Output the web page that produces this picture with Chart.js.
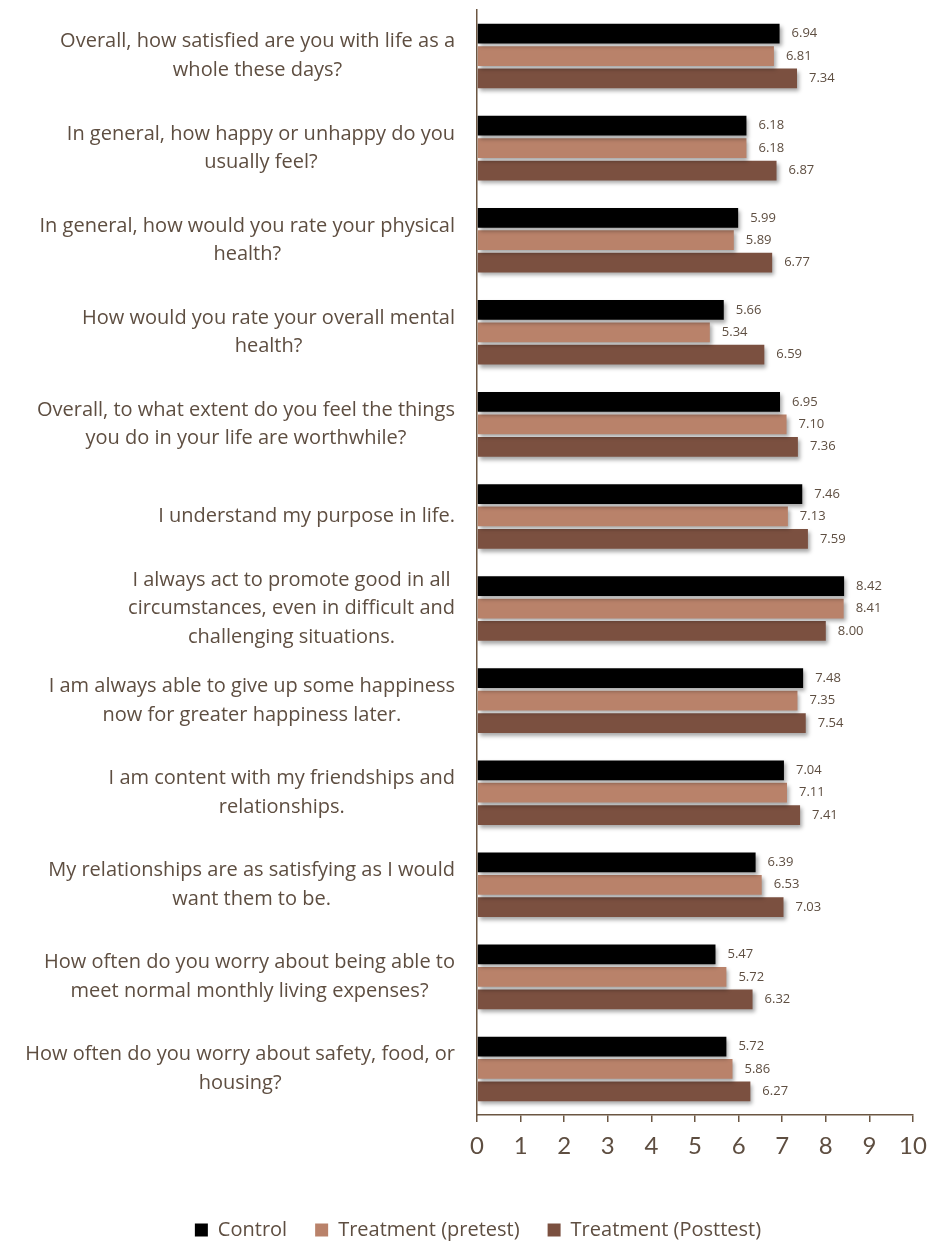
<!DOCTYPE html>
<html>
<head>
<meta charset="utf-8">
<script src="https://cdn.jsdelivr.net/npm/chart.js@4/dist/chart.umd.min.js"></script>
<style>
  html, body { margin: 0; padding: 0; background: #fff; }
  #wrap { width: 927px; height: 1243px; }
</style>
</head>
<body>
<div id="wrap"><canvas id="wellbeingChart" width="927" height="1243"></canvas></div>
<script>
const questions = [
    ["Overall, how satisfied are you with life as a", "whole these days?"],
    ["In general, how happy or unhappy do you", "usually feel?"],
    ["In general, how would you rate your physical", "health?"],
    ["How would you rate your overall mental", "health?"],
    ["Overall, to what extent do you feel the things", "you do in your life are worthwhile?"],
    ["I understand my purpose in life."],
    ["I always act to promote good in all", "circumstances, even in difficult and", "challenging situations."],
    ["I am always able to give up some happiness", "now for greater happiness later."],
    ["I am content with my friendships and", "relationships."],
    ["My relationships are as satisfying as I would", "want them to be."],
    ["How often do you worry about being able to", "meet normal monthly living expenses?"],
    ["How often do you worry about safety, food, or", "housing?"]
];
const controlScores = [6.94, 6.18, 5.99, 5.66, 6.95, 7.46, 8.42, 7.48, 7.04, 6.39, 5.47, 5.72];
const pretestScores = [6.81, 6.18, 5.89, 5.34, 7.10, 7.13, 8.41, 7.35, 7.11, 6.53, 5.72, 5.86];
const posttestScores = [7.34, 6.87, 6.77, 6.59, 7.36, 7.59, 8.00, 7.54, 7.41, 7.03, 6.32, 6.27];
const xTicks = [0, 1, 2, 3, 4, 5, 6, 7, 8, 9, 10];

const TEXT = "#5e4e41";
const AXIS = "#6b5642";
const LABEL_FONT = "'Open Sans', 'Noto Sans', sans-serif";

// soft drop shadow under the bars
const barShadow = {
    id: "barShadow",
    beforeDatasetsDraw(chart) {
        const ctx = chart.ctx;
        ctx.save();
        ctx.shadowColor = "rgba(0,0,0,0.35)";
        ctx.shadowBlur = 4;
        ctx.shadowOffsetX = 2;
        ctx.shadowOffsetY = 3;
    },
    afterDatasetsDraw(chart) {
        chart.ctx.restore();
    }
};

// value text at the end of every bar
const valueLabels = {
    id: "valueLabels",
    afterDatasetsDraw(chart) {
        const ctx = chart.ctx;
        ctx.save();
        ctx.font = "13px " + LABEL_FONT;
        ctx.fillStyle = TEXT;
        ctx.textAlign = "left";
        ctx.textBaseline = "middle";
        chart.data.datasets.forEach((ds, i) => {
            chart.getDatasetMeta(i).data.forEach((bar, j) => {
                ctx.fillText(ds.data[j].toFixed(2), bar.x + 12, bar.y);
            });
        });
        ctx.restore();
    }
};

// question text: each block sits right against the axis, lines centred inside it
const questionLabels = {
    id: "questionLabels",
    afterDraw(chart) {
        const ctx = chart.ctx;
        const y = chart.scales.y;
        const right = chart.chartArea.left - 22;
        const lineH = 28.5;
        ctx.save();
        ctx.font = "20px " + LABEL_FONT;
        ctx.fillStyle = TEXT;
        ctx.textAlign = "center";
        ctx.textBaseline = "middle";
        questions.forEach((lines, i) => {
            const widest = Math.max(...lines.map(l => ctx.measureText(l).width));
            const cx = right - widest / 2;
            const cy = y.getPixelForTick(i);
            lines.forEach((line, k) => {
                ctx.fillText(line, cx, cy + (k - (lines.length - 1) / 2) * lineH);
            });
        });
        ctx.restore();
    }
};

new Chart(document.getElementById("wellbeingChart"), {
    type: "bar",
    data: {
        labels: questions.map(q => q.join(" ")),
        datasets: [
            { label: "Control", data: controlScores, backgroundColor: "#000000" },
            { label: "Treatment (pretest)", data: pretestScores, backgroundColor: "#b9826a" },
            { label: "Treatment (Posttest)", data: posttestScores, backgroundColor: "#7b5040" }
        ]
    },
    options: {
        indexAxis: "y",
        responsive: false,
        animation: false,
        categoryPercentage: 0.73,
        barPercentage: 0.88,
        layout: { padding: { top: 10, right: 0, bottom: -7, left: 29 } },
        scales: {
            x: {
                min: 0,
                max: 10,
                afterBuildTicks(scale) {
                    scale.ticks = xTicks.map(v => ({ value: v }));
                },
                grid: { display: true, drawOnChartArea: false, color: AXIS, tickLength: 7, lineWidth: 1.5 },
                border: { display: true, color: AXIS, width: 1.5 },
                ticks: {
                    color: TEXT,
                    padding: 10,
                    font: { family: "Lato, sans-serif", size: 24 }
                },
                afterFit(scale) {
                    scale.height = 77;
                    scale.paddingLeft = 0;
                    scale.paddingRight = 14;
                }
            },
            y: {
                grid: { display: false },
                border: { display: true, color: AXIS, width: 1.5 },
                ticks: { display: false },
                afterFit(scale) {
                    scale.width = 448;
                }
            }
        },
        plugins: {
            legend: {
                position: "bottom",
                labels: {
                    color: TEXT,
                    boxWidth: 13,
                    boxHeight: 13,
                    padding: 28,
                    font: { family: LABEL_FONT, size: 20 }
                }
            },
            tooltip: { enabled: false }
        }
    },
    plugins: [barShadow, valueLabels, questionLabels]
});
</script>
</body>
</html>
